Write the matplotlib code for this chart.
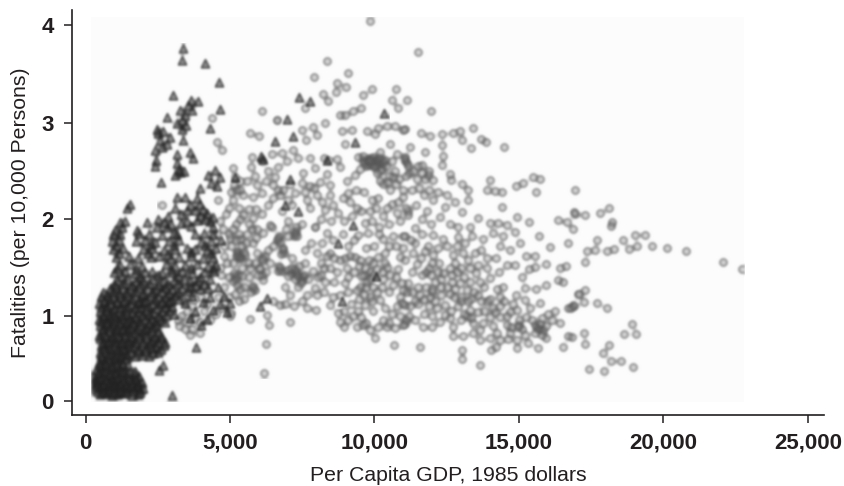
import matplotlib
matplotlib.use("Agg")
import matplotlib.pyplot as plt
from matplotlib.patches import Rectangle
import numpy as np

plt.rcParams['font.family'] = ['Liberation Sans', 'DejaVu Sans']

# values: (per capita gdp, fatalities)
tri_top = [(3360,3.77),(3350,3.64),(4130,3.61),(4630,3.42),(3010,3.29),(3640,3.24),(3900,3.22),(4650,3.14),
    (2810,3.06),(3270,3.13),(3440,3.08),(3670,3.13),(3330,3.03),(4310,2.95),(2460,2.94),(2690,2.92),(2580,2.82),
    (2400,2.72),(2920,2.85),(2810,2.78),(3330,2.94),(3380,2.82),(3610,2.70),(3710,2.64),(3150,2.68),(3150,2.58),
    (2400,2.55),(3270,2.49),(3100,2.46),(2600,2.39),(4480,2.51),(4250,2.46),(3960,2.32),(4650,2.44),(5170,2.44),
    (4540,2.34),(1540,2.16),(1420,2.11),(3150,2.23),(3440,2.23),(3960,2.16),(3790,2.09),(4190,2.06),(3500,2.09),
    (2870,2.03),(1190,1.97),(1020,1.89),(1770,1.89),(2115,1.97),(2460,1.92),(2810,1.92),(3840,1.99),(4420,1.92),
    (3150,1.85),(3790,1.85),(2500,2.90),(2650,2.75),(2450,2.62),(3480,2.98),(3550,3.18),(3150,3.00),(3240,2.52),(3400,2.50),
    (3600,2.15),(4050,2.10),(3850,2.22),(4350,2.38),(4420,2.02),(3100,2.12),(3300,2.05),
    (1250,1.92),(1350,1.98),(2500,2.00),(2700,1.97),(2950,1.95),(3300,1.96),(3500,1.98),(3650,1.93),(3950,2.03),(4300,1.98),(4150,2.00)]

tri_mid = [(950,1.85),(1200,1.85),(1850,1.86),(2200,1.85),(2650,1.84),(3050,1.86),(4100,1.86),(4400,1.85),
    (900,1.77),(1150,1.78),(1750,1.77),(2050,1.78),(2400,1.76),(2900,1.77),(3250,1.78),(4000,1.76),(4350,1.77),(4700,1.78),
    (950,1.69),(1300,1.70),(2000,1.69),(2300,1.70),(2700,1.68),(3100,1.69),(3500,1.70),(3800,1.69),(4200,1.68),(4500,1.70),
    (1050,1.61),(1500,1.62),(1800,1.60),(2250,1.61),(2550,1.62),(2950,1.60),(3250,1.61),(3650,1.62),(4050,1.60),(4400,1.61),
    (1200,1.53),(1550,1.54),(1950,1.52),(2800,1.54),(3100,1.52),(3450,1.53),(3850,1.54),(4250,1.52),(4500,1.53),
    (1000,1.45),(1350,1.46),(1700,1.44),(2050,1.45),(2300,1.46),(2650,1.44),(3000,1.45),(3350,1.46),(3700,1.44),(4100,1.45),(4450,1.46),
    (1100,1.37),(1450,1.38),(1750,1.36),(2000,1.37),(2350,1.38),(2700,1.36),(3050,1.37),(3400,1.38),(3600,1.36),(3900,1.37),(4300,1.38),
    (850,1.29),(1050,1.30),(1300,1.28),(1550,1.29),(1850,1.30),(2150,1.28),(2450,1.29),(2750,1.30),(3000,1.28),(3350,1.29),(3650,1.30),(3950,1.28),(4250,1.29),(4600,1.30)]

tri_low = [(550,1.21),(750,1.22),(950,1.20),(1200,1.21),(1450,1.22),(1700,1.20),(1950,1.21),(2250,1.22),(2500,1.20),(2800,1.21),(3100,1.22),(3700,1.21),(4300,1.20),(4800,1.21),
    (450,1.13),(650,1.14),(850,1.12),(1100,1.13),(1300,1.14),(1550,1.12),(1800,1.13),(2000,1.14),(2300,1.12),(2600,1.13),(2850,1.14),(3450,1.13),(4050,1.14),(4650,1.12),(5000,1.13),
    (500,1.05),(700,1.06),(900,1.04),(1150,1.05),(1350,1.06),(1600,1.04),(1850,1.05),(2100,1.06),(2350,1.04),(2650,1.05),(2900,1.06),(3800,1.05),(4400,1.06),(4900,1.04),
    (450,.97),(650,.98),(850,.96),(1100,.97),(1300,.98),(1550,.96),(1750,.97),(2050,.98),(2300,.96),(2600,.97),(3600,.98),(4200,.96),
    (500,.90),(700,.91),(950,.89),(1150,.90),(1400,.91),(1650,.89),(1900,.90),(2200,.91),(2450,.89),(4000,.90),
    (550,.82),(800,.83),(1000,.81),(1250,.82),(1450,.83),(1700,.81),(2000,.82),(2250,.83),(2500,.81),
    (500,.74),(700,.75),(950,.73),(1150,.74),(1350,.75),(1600,.73),(1850,.74),(2100,.75),(2350,.73),(2650,.74),
    (550,.66),(750,.67),(1000,.65),(1200,.66),(1450,.67),(1650,.65),(1950,.66),(2200,.67),(2450,.65),(2700,.66),
    (500,.58),(700,.59),(900,.57),(1150,.58),(1350,.59),(1550,.57),(1800,.58),(2050,.59),(2350,.57),(2500,.58),
    (550,.50),(750,.51),(1000,.49),(1200,.50),(1400,.51),
    (450,.46),(650,.45),(850,.47),(1050,.46),(1250,.45),
    (350,.38),(550,.39),(750,.37),(950,.38),(1150,.39),(1350,.37),
    (250,.30),(400,.31),(600,.29),(800,.30),(1000,.31),(1200,.29),(1400,.30),(1700,.31),(1850,.29),
    (250,.22),(400,.23),(600,.21),(800,.22),(1000,.23),(1200,.21),(1400,.22),(1600,.23),(1800,.21),(1950,.22),
    (300,.15),(500,.16),(700,.14),(900,.15),(1100,.16),(1300,.14),(1500,.15),(1700,.16),(1900,.14),(2000,.15),
    (500,.08),(700,.09),(900,.07),(1100,.08),(1300,.09),(1600,.07),(1800,.08),
    (3820,.64),(2690,.42),(2550,.37),(3000,.07)]

# second pass over the solid dark part, it is packed tighter than one pass can read
tri_dense = [(350,.26),(500,.27),(700,.25),(900,.26),(1100,.27),(1300,.25),(1500,.26),(1750,.26),
    (400,.19),(600,.18),(800,.19),(1000,.18),(1200,.19),(1400,.18),(1600,.19),(1800,.18),
    (400,.12),(600,.11),(800,.12),(1000,.11),(1200,.12),(1400,.11),(1650,.12),(1900,.11),
    (450,.34),(650,.35),(850,.33),(1050,.34),(1250,.35),(1500,.34),(1700,.35),
    (500,.42),(700,.43),(900,.41),(1100,.42),(1300,.43),(1480,.42),
    (550,.54),(800,.55),(1050,.53),(1250,.54),(1450,.55),(1700,.53),(1950,.54),(2200,.53),
    (600,.62),(850,.62),(1100,.61),(1300,.62),(1550,.63),(1800,.61),(2100,.62),(2300,.62),(2600,.61),
    (600,.70),(800,.71),(1050,.69),(1250,.70),(1500,.71),(1750,.69),(2000,.70),(2250,.71),(2500,.69),(2750,.70),
    (450,.78),(650,.79),(900,.77),(1100,.78),(1350,.79),(1550,.77),(1800,.78),(2100,.79),(2400,.77),(2600,.78),
    (600,.86),(850,.87),(1100,.85),(1300,.86),(1550,.87),(1800,.85),(2100,.86),(2350,.87),
    (550,.94),(750,.93),(1000,.94),(1200,.93),(1450,.94),(1650,.93),(1900,.94),(2200,.93),(2450,.94),(2750,.93),
    (600,1.01),(800,1.02),(1000,1.00),(1250,1.01),(1450,1.02),(1700,1.00),(1950,1.01),(2200,1.02),(2500,1.00),(2800,1.01),(3050,1.02),
    (550,1.09),(750,1.10),(1000,1.08),(1200,1.09),(1450,1.10),(1700,1.08),(1900,1.09),(2150,1.10),(2450,1.08),(2750,1.09),(3000,1.10),
    (650,1.17),(850,1.18),(1100,1.16),(1350,1.17),(1600,1.18),(1850,1.16),(2100,1.17),(2400,1.18),(2650,1.16),(2950,1.17),(3250,1.18),
    (600,1.25),(950,1.26),(1150,1.24),(1400,1.25),(1700,1.26),(2000,1.24),(2300,1.25),(2600,1.26),(2900,1.24),(3200,1.25),(3500,1.26),
    (1000,1.33),(1300,1.34),(1600,1.32),(1900,1.33),(2200,1.34),(2550,1.32),(2850,1.33),(3200,1.34),(3800,1.32),(4100,1.33),
    (1250,1.41),(1900,1.40),(2500,1.42),(3200,1.41),(3950,1.40),
    (1100,1.49),(1750,1.48),(2950,1.48),(3650,1.50),(4400,1.49),
    (1150,1.65),(2150,1.65),(2850,1.64),(3650,1.66),(4350,1.65),
    (1050,1.73),(2250,1.74),(3050,1.73),(4150,1.73)]

tri_scattered = [(7390,3.27),(7770,3.22),(6960,3.04),(6560,2.81),(7190,2.87),(10330,3.10),(9320,2.80),(6060,2.66),(6150,2.63),
    (8340,2.62),(7080,2.42),(6900,2.15),(7360,2.08),(8750,1.75),(9270,1.94),(10070,1.41),(6270,1.19),(6040,1.10),(8860,1.155)]

circ_left = [(4360,3.05),(4540,2.80),(4710,2.72),(2630,2.15),(3960,.80),(6120,3.12),(6640,3.03),(5690,2.90),(6010,2.87),
    (5090,2.53),(5710,2.54),(5170,2.44),(5140,2.35),(5750,2.65),(5460,2.25),(5810,2.23),(6100,2.27),(5320,2.11),(5460,2.04),(5810,2.01),
    (5350,1.79),(5290,1.63),(5520,1.63),(5170,1.41),(5400,1.41),(6150,1.855),(6150,1.58),(5980,1.42),(6150,1.37),(5810,1.29),
    (5170,1.23),(5020,1.03),(5690,.965),(6270,1.01),(6360,.89),(7080,.93),(6230,.67),(6190,.33),
    (4550,1.85),(4800,1.72),(4900,1.55),(4700,1.42),(4800,1.30),(5000,1.80),(4650,1.98),(4950,2.12),(5200,1.95),(5600,1.85),
    (3400,1.15),(3700,1.10),(4000,1.20),(3300,1.00),(3550,.93),(3800,.98),(4100,1.05),(3450,.85),(3700,.85),(4300,.95),(3200,.95),
    (4600,2.20),(4850,2.05),(5100,2.20),(5350,2.00),(4750,1.90),(5050,1.72),(5300,1.85),(5550,1.75),(4800,1.62),(5100,1.55),(5400,1.50),(5650,1.55),
    (4650,1.50),(4950,1.40),(5250,1.32),(5500,1.30),(4600,1.20),(4950,1.20),(5300,1.15),(5000,1.00),(4750,1.08),(5350,2.30),(5600,2.40),(5850,2.45),
    (5900,2.10),(5650,2.10),(5950,1.90),(5800,1.75),(6100,2.05),(5950,1.65),(5700,1.50),(5850,1.55),(6000,1.50),(5650,1.40),(5500,1.18),
    (5250,1.65),(5380,1.60),(5200,1.78),(5420,1.72),(5280,1.42),(5120,1.36),(5330,1.28),(6300,1.68),(6400,1.55),(6250,1.45),(6450,1.92),(6300,2.15),
    (6500,2.35),(6300,2.50),(6250,2.40),(6100,2.60),(5950,2.35),(6650,2.30),(3500,1.05),(3750,1.18),(3950,.93),(4200,1.12),(4500,1.02),(3250,.88),(3600,.78)]

# the darker knots in the grey part, several marks lie on top of each other there
circ_knots = [(5300,1.60),(5250,1.66),(5330,1.62),(5200,1.62),(5500,1.66),(5150,1.44),(5220,1.38),(5780,1.31),(5850,1.27),(5720,1.25),
    (6700,1.82),(6640,1.78),(6720,1.76),(7280,1.88),(7200,1.82),(7320,1.82),(6820,1.70),(6880,1.65),(6760,1.64),(6700,1.52),(6780,1.46),(6650,1.46),
    (7280,1.45),(7380,1.40),(7450,1.34),(7520,1.40),(7240,1.38),(7100,1.44),(7000,1.47),(6100,1.60),(6200,1.62),(6050,1.48),(6120,1.42),
    (5350,2.40),(5200,2.30),(5050,2.28),(4950,1.85),(5100,1.90),(5750,1.90),(5650,1.95),(5900,1.80),
    (9750,2.60),(9850,2.64),(9950,2.60),(10050,2.62),(10150,2.58),(10250,2.62),(9700,2.55),(9800,2.56),(10050,2.56),(10180,2.50),(9600,2.62),
    (11050,2.60),(11150,2.55),(11200,2.48),(11350,2.50),(11100,2.45),(11500,2.55),(11650,2.48),(11750,2.42),(11900,2.50),(11550,2.32),
    (9650,1.42),(9750,1.35),(9850,1.45),(9450,1.52),(9950,1.42),(10250,1.45),(10350,1.55),(10550,1.42),(9800,1.58),(9950,1.55),
    (11400,1.15),(11700,1.18),(12100,1.15),(12000,1.25),(11800,1.45),(12000,1.55),(12300,1.38),(12600,1.50),(12700,1.35),(13100,1.40),(13300,1.50),
    (13450,1.25),(13700,1.15),(13200,1.00),(13000,1.15),(12800,1.28),(14100,1.08),(14350,1.10),(14600,1.00),(15000,.90),(15100,.85),(15550,.90),(15700,.85),
    (10750,1.40),(10900,1.20),(11300,1.25),(10250,1.30),(9850,1.20),(9500,1.30),(9100,1.40),(8600,1.60),(8350,1.62),(8250,1.50),(8050,1.40)]

circ_mid_up = [(8340,3.63),(7900,3.47),(9090,3.51),(8710,3.41),(9010,3.37),(8670,3.32),(8210,3.30),(8400,3.22),(9900,3.35),(9610,3.29),
    (10730,3.35),(10590,3.24),(10820,3.15),(11130,3.23),(7590,3.15),(6640,3.03),(8290,3.00),(9550,3.15),(9270,3.12),(8980,3.08),(8800,3.08),
    (7480,2.93),(7880,2.96),(8020,2.88),(7630,2.82),(8860,2.92),(9210,2.93),(9730,2.92),(10020,2.89),(10130,2.95),(10420,2.97),(10710,2.97),(11000,2.93),
    (8980,2.78),(10530,2.78),(7190,2.72),(6790,2.69),(6460,2.68),(7360,2.64),(6980,2.60),(7770,2.64),(8690,2.63),(8800,2.54),
    (9440,2.65),(9730,2.61),(9960,2.65),(10190,2.70),(9900,2.56),(10300,2.58),(10770,2.68),(11050,2.65),(6670,2.54),(7940,2.53),(7540,2.48),
    (6560,2.44),(7080,2.37),(8340,2.47),(9320,2.46),(9040,2.40),(7770,2.34),(8110,2.39),(8460,2.35),(10190,2.40),(10650,2.44),(10420,2.39),(11000,2.30),
    (6500,2.22),(6730,2.25),(7250,2.27),(7590,2.28),(8000,2.25),(8460,2.25),(9090,2.27),(9150,2.18),(10130,2.22),(10590,2.16),(11000,2.23),
    (6790,2.08),(7770,2.11),(8290,2.09),(8750,2.06),(9550,2.08),(9210,2.03),(9670,1.96),(10300,2.03),(10770,2.06),(11170,2.08),(6380,1.94),(7940,1.92),
    (9800,2.62),(10050,2.60),(10000,2.54),(9650,2.58),(10350,2.62),(10500,2.45),(10300,2.36),(10100,2.48),(9500,2.52),(8400,2.62),(8250,2.64),
    (9600,2.66),(9850,2.60),(10150,2.64),(10250,2.52),(10400,2.55),(10600,2.60),(10700,2.50),(10850,2.42),(10750,2.36),(10550,2.30),(7000,2.20),(7150,2.15),
    (6850,2.30),(7500,2.38),(7650,2.20),(7900,2.32),(8200,2.18),(8550,2.15),(8150,2.00),(8500,1.98),(8900,2.22),(9350,2.30),(9650,2.28),(9900,2.20),(9400,2.12),
    (9850,2.08),(10050,2.12),(10450,2.12),(10800,2.18),(11100,2.12),(10900,1.98),(10500,1.95),(10150,1.92),(9900,1.98),(8950,1.98),(7000,1.98),(7300,1.92)]

circ_mid_low = [(6670,1.80),(7250,1.855),(7020,1.82),(6840,1.68),(6730,1.49),(7310,1.42),(7480,1.37),(7020,1.41),(7880,1.46),(7590,1.68),(7940,1.92),
    (8340,1.855),(8460,1.65),(8980,1.60),(8460,1.49),(9320,1.61),(9440,1.84),(9780,1.855),(10300,1.79),(10650,1.82),(11000,1.82),(10130,1.61),(9670,1.49),
    (10420,1.51),(10880,1.61),(9840,1.39),(9550,1.41),(8980,1.34),(9380,1.27),(10650,1.32),(10940,1.34),(11110,1.25),(7940,1.29),(8000,1.22),(7680,1.22),
    (7080,1.22),(6730,1.11),(6500,1.15),(7970,1.06),(8460,1.11),(8750,1.03),(9440,1.05),(9670,1.11),(9900,1.15),(10190,1.17),(10770,1.10),(11050,1.11),
    (8800,.93),(9090,.95),(9380,.875),(9550,.99),(9840,.83),(10020,.74),(10130,.875),(10420,.875),(10710,.855),(11050,.91),(10670,.66),
    (6500,1.72),(6950,1.90),(7600,1.55),(7150,1.60),(6900,1.30),(7500,1.15),(8200,1.75),(8150,1.55),(8700,1.45),(8300,1.35),(7500,1.95),(8900,1.85),(9100,1.72),
    (9050,1.50),(9700,1.70),(10000,1.72),(10350,1.65),(10100,1.48),(9950,1.30),(10300,1.38),(9300,1.45),(8800,1.22),(9200,1.12),(10500,1.25),(10800,1.48),(11000,1.70),
    (7250,1.48),(7400,1.52),(7100,1.50),(7550,1.42),(7700,1.38),(7350,1.30),(7650,1.08),(6900,1.12),(7200,1.10),(8250,1.25),(8550,1.20),(8600,1.35),(8150,1.42),
    (8800,1.58),(9150,1.62),(9500,1.58),(9700,1.30),(10100,1.25),(10350,1.08),(9950,1.05),(10600,1.02),(10900,1.00),(8950,1.05),(9100,1.25),(9450,1.18),
    (9650,1.22),(9250,1.00),(9700,.92),(10300,.95),(10500,.92),(8950,.87),(9600,.90),(7800,1.75),(8000,1.65),(8550,1.78),(9300,1.78),(10150,1.85),(10500,1.72),(10750,1.72)]

circ_center = [(11050,2.94),(11600,2.90),(11920,2.87),(12330,2.89),(12330,2.77),(11230,2.75),(11750,2.70),(12370,2.66),(11050,2.63),(11120,2.58),(11640,2.56),
    (12330,2.56),(12610,2.47),(11850,2.46),(11470,2.42),(12020,2.41),(12650,2.41),(13030,2.37),(13240,2.30),(12020,2.20),(13240,2.20),
    (11160,2.04),(11400,1.91),(11050,1.82),(11820,2.08),(12270,2.02),(12450,2.13),(12890,1.92),(13030,2.07),(12890,1.81),(12370,1.79),(12020,1.84),
    (13310,1.92),(13580,2.01),(14000,1.96),(14270,1.96),(14580,1.94),(14860,1.87),(14450,1.82),(14100,1.86),(13750,1.79),(13370,1.82),
    (11740,1.67),(12030,1.63),(11460,1.54),(11050,1.58),(11630,1.42),(11170,1.34),(10990,1.27),(11570,1.22),(11920,1.20),(12320,1.22),(12610,1.23),
    (13190,1.27),(13590,1.22),(13880,1.15),(14170,1.04),(10940,1.13),(11230,1.10),(12150,1.08),(12440,1.11),(12900,1.10),(13300,1.06),(13590,1.04),
    (13700,1.68),(13070,1.65),(13470,1.65),(12730,1.63),(12380,1.44),(12670,1.42),(13010,1.49),(12960,1.34),(12090,1.35),(13590,1.53),(13880,1.49),
    (13530,1.44),(14000,1.39),(14220,1.60),(14570,1.53),(14860,1.53),(14340,1.20),(14450,1.30),(14690,1.04),(14920,1.06),(15200,1.29),(15200,1.17),
    (15260,.99),(14340,.99),(13990,.99),(12440,1.01),(10995,.89),(11400,.95),(11690,.875),(11975,.875),(12260,.93),(12725,.87),(13650,.84),(13990,.74),
    (13650,.72),(14340,.72),(14630,.73),(14920,.72),(14050,.60),(14920,.62),(14220,.64),(12725,.76),(13070,.76),(11590,.64),(13040,.60),(13040,.50),
    (13650,.42),(14740,.87),(14970,.87),(15200,.78),
    (11400,1.75),(11900,1.50),(12250,1.55),(12800,1.55),(11300,1.45),(11800,1.30),(12500,1.30),(13300,1.35),(13800,1.30),(14300,1.45),(12000,1.00),(12600,.98),
    (13000,.95),(13400,.92),(14600,.90),(14100,.88),(14500,1.15),(14900,1.22),
    (11300,2.30),(11700,2.25),(11450,2.15),(11900,2.30),(12200,2.28),(12500,2.25),(12800,2.18),(11650,2.00),(11950,1.95),(12600,1.95),(11250,1.78),(11650,1.85),
    (11350,1.65),(11600,1.60),(11850,1.72),(12200,1.70),(12500,1.72),(12850,1.72),(13150,1.75),(11950,1.42),(12200,1.45),(11500,1.30),(12000,1.28),(12750,1.20),
    (13000,1.20),(13350,1.18),(12300,1.30),(12650,1.05),(13100,1.02),(13800,1.05),(13250,1.15),(14000,1.18),(14250,1.28),(13650,1.35),(12850,1.45),(13250,1.58),
    (13900,1.60),(14350,1.72),(14700,1.68),(11200,1.00),(11700,1.02),(11100,.95),(11500,1.12),(11900,1.10),(13350,.98),(13750,.92),(14250,.80),(14700,.80),(13400,.80),
    (15000,.95),(14800,1.12),(15100,1.40),(15350,1.48),(15550,1.62),(15250,1.62),(15600,1.28),(15400,1.08)]

circ_right = [(11950,3.12),(11500,3.72),(9850,4.04),(13400,2.95),(12960,2.92),(12720,2.90),(13680,2.83),(13860,2.80),(13030,2.82),(13340,2.74),(14480,2.75),
    (14000,2.41),(13890,2.30),(14170,2.29),(14410,2.28),(14900,2.34),(15140,2.38),(15480,2.44),(15730,2.42),(15590,2.28),(16940,2.30),(14410,2.13),
    (14930,2.02),(15350,1.97),(15690,1.83),(16350,1.99),(16660,1.97),(16940,2.05),(16870,1.90),(16700,1.75),(16070,1.71),(15030,1.75),
    (15950,1.54),(15550,1.51),(16410,1.49),(16640,1.52),(16360,1.37),(16530,1.35),(15950,1.32),(17050,1.23),(16880,1.11),(16700,1.08),(15720,1.13),(16240,1.05),
    (15610,.855),(15840,.835),(15950,.74),(16130,.95),(16410,.92),(15720,.91),(15320,.68),(15670,.62),(16530,.63),(16700,.76),
    (16900,2.07),(17280,2.04),(17800,2.06),(18110,2.11),(18220,1.97),(18180,1.93),(19010,1.84),(19360,1.84),(18600,1.78),(17700,1.78),(17350,1.67),(17630,1.68),
    (18050,1.67),(18290,1.69),(18810,1.69),(19080,1.72),(19600,1.72),(20120,1.70),(20780,1.67),(22060,1.56),(22710,1.48),(17280,1.56),(17280,1.27),(17080,1.23),
    (17250,1.14),(17700,1.13),(18050,1.08),(16900,1.10),(16800,1.08),(18910,.91),(18630,.79),(19050,.79),(17250,.80),(17280,.67),(16830,.75),(18110,.66),
    (17900,.56),(18180,.47),(18530,.47),(18940,.40),(17420,.38),(17940,.35),
    (15800,.98),(15950,.88),(15550,.80),(15800,.78),(15450,.95),(16000,1.02)]

xticks = [0, 5000, 10000, 15000, 20000, 25000]
yticks = [0, 1, 2, 3, 4]

# the printed y axis is not even, the gap from 0 to 1 is shorter than the others
y_vals = [-1, 0, 1, 2, 3, 4, 5]
y_pos = [-85, 0, 85, 182, 278, 376, 473]

def forward(v):
    return np.interp(v, y_vals, y_pos)

def inverse(p):
    return np.interp(p, y_pos, y_vals)

def soften(img, dpi):
    # the reference is a soft scan, so smear the marks a little
    kernel = [0.25, 0.5, 0.25]
    for ax_id in (0, 1):
        for _ in range(2):
            img = np.apply_along_axis(lambda r: np.convolve(r, kernel, mode='same'), ax_id, img)
    return img, 0, 0

ink = '#231f20'
fig = plt.figure(figsize=(8.45, 4.86), dpi=100)
ax = fig.add_axes([72/845, 1-414.7/486, 752/845, 404.7/486])
ax.set_yscale('function', functions=(forward, inverse))
ax.set_xlim(-470, 25560)
ax.set_ylim(-0.161, 4.155)

bg = Rectangle((200, -0.01), 22600, 4.09, facecolor='#fcfcfc', edgecolor='none', zorder=0)
ax.add_patch(bg)

circles = circ_left + circ_knots + circ_mid_up + circ_mid_low + circ_center + circ_right
triangles = tri_top + tri_mid + tri_low + tri_dense + tri_scattered
cx, cy = zip(*circles)
tx, ty = zip(*triangles)
s1 = ax.scatter(cx, cy, s=30, marker='o', facecolors=(.45, .45, .45, .25), edgecolors=(.33, .33, .33, .72), linewidths=1.5, zorder=2)
s2 = ax.scatter(tx, ty, s=44, marker='^', facecolors=(.2, .2, .2, .5), edgecolors=(.12, .12, .12, .85), linewidths=1.3, zorder=3)
s1.set_clip_path(bg)
s2.set_clip_path(bg)
s1.set_agg_filter(soften)
s2.set_agg_filter(soften)

for side in ['top', 'right']:
    ax.spines[side].set_visible(False)
for side in ['left', 'bottom']:
    ax.spines[side].set_linewidth(1.2)
    ax.spines[side].set_color(ink)

ax.set_xticks(xticks)
ax.set_xticklabels([f'{v:,}' for v in xticks])
ax.set_yticks(yticks)
ax.set_yticklabels([str(v) for v in yticks])
ax.minorticks_off()
ax.tick_params(length=6, width=1.1, color=ink, pad=7, labelcolor=ink, labelsize=16)
for lab in ax.get_xticklabels() + ax.get_yticklabels():
    lab.set_fontweight('bold')

ax.set_xlabel('Per Capita GDP, 1985 dollars', fontsize=15.3, color=ink, labelpad=9)
ax.set_ylabel('Fatalities (per 10,000 Persons)', fontsize=15.3, color=ink, labelpad=8)

fig.savefig('out.png', dpi=100)
